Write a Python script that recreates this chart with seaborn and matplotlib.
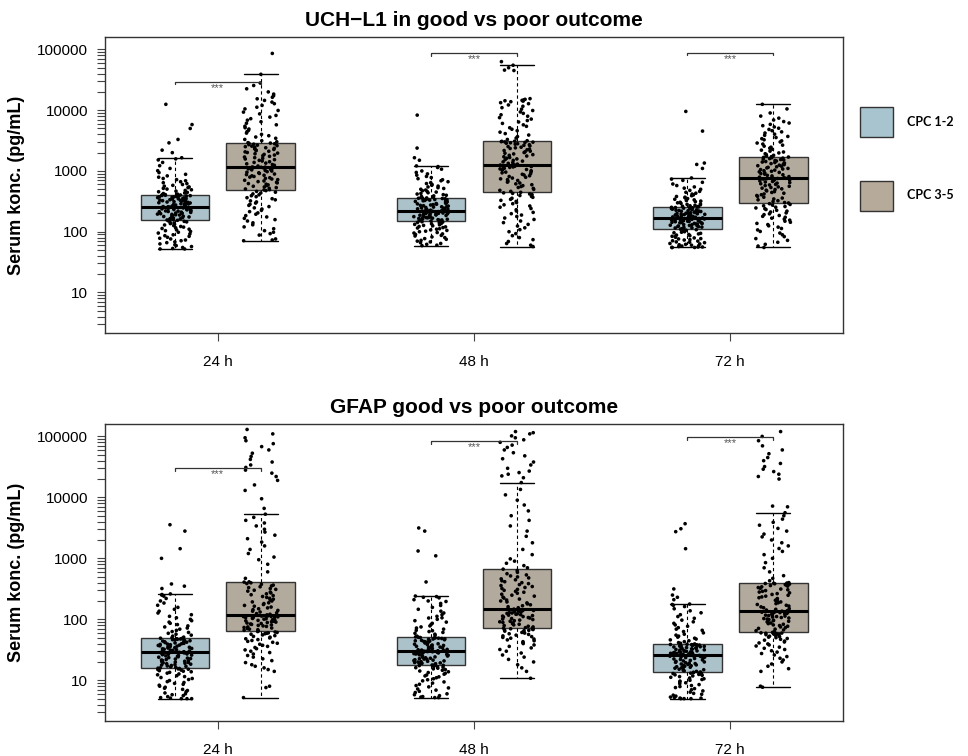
import numpy as np
import pandas as pd
import seaborn as sns
import matplotlib.pyplot as plt
from matplotlib.patches import Patch
from matplotlib.ticker import LogLocator, FuncFormatter, NullFormatter

times = ["24 h", "48 h", "72 h"]
groups = ["CPC 1-2", "CPC 3-5"]
group_colors = ["#a7c4cf", "#b6aa9b"]

# UCH-L1, serum konc. (pg/mL)
uchl1_24_good = [52, 52, 53, 55, 57, 59, 61, 63, 66, 68, 71, 73, 76, 78, 81, 84, 86, 89, 92, 95,
                 98, 101, 104, 107, 110, 113, 116, 119, 122, 126, 129, 132, 136, 139, 142, 145, 148, 151, 154, 156,
                 158, 160, 163, 165, 168, 170, 173, 175, 178, 180, 183, 185, 188, 190, 193, 195, 198, 200, 203, 205,
                 208, 210, 213, 215, 218, 220, 223, 226, 229, 232, 235, 238, 241, 243, 246, 248, 250, 252, 254, 256,
                 259, 262, 265, 268, 272, 275, 279, 282, 286, 289, 293, 297, 300, 304, 308, 312, 316, 320, 324, 328,
                 332, 336, 340, 344, 348, 352, 356, 360, 364, 368, 372, 376, 380, 384, 388, 392, 396, 399, 402, 404,
                 408, 416, 425, 434, 444, 455, 466, 478, 490, 503, 517, 531, 546, 562, 580, 598, 618, 640, 665, 690,
                 720, 752, 790, 830, 880, 940, 1010, 1100, 1220, 1380, 1520, 1580, 1650,
                 2000, 2200, 2900, 3300, 5000, 5800, 12500]
uchl1_24_poor = [71, 73, 76, 88, 93, 98, 104, 112, 120, 130, 140, 150, 158, 166, 175, 184, 194, 204, 214, 225,
                 236, 247, 259, 271, 283, 296, 309, 322, 335, 349, 363, 377, 391, 405, 419, 433, 447, 461, 474, 487,
                 492, 505, 518, 532, 546, 560, 575, 590, 605, 620, 636, 652, 668, 685, 702, 719, 737, 755, 773, 792,
                 811, 830, 850, 870, 890, 911, 932, 953, 975, 997, 1019, 1041, 1063, 1084, 1104, 1122, 1137, 1149,
                 1156, 1162,
                 1172, 1205, 1240, 1275, 1310, 1346, 1382, 1419, 1457, 1495, 1534, 1574, 1614, 1655, 1697, 1740,
                 1784, 1828, 1873, 1919, 1966, 2013, 2061, 2110, 2160, 2210, 2260, 2310, 2360, 2410, 2460, 2510,
                 2560, 2610, 2660, 2710, 2760, 2805, 2845, 2875,
                 2920, 3020, 3150, 3300, 3450, 3620, 3800, 4000, 4200, 4420, 4650, 4900, 5150, 5450, 5750, 6100,
                 6450, 6850, 7250, 7700, 8200, 8700, 9300, 9900, 10500, 11200, 12000, 12800, 13600, 14500, 15400,
                 16300, 17300, 18400, 20000, 22500, 25500, 28000, 39000, 86000]
uchl1_48_good = [59, 60, 62, 64, 66, 68, 70, 72, 75, 77, 80, 82, 85, 87, 90, 92, 95, 97, 100, 102,
                 105, 107, 110, 112, 115, 117, 120, 122, 125, 127, 130, 132, 135, 137, 140, 142, 144, 146, 148, 150,
                 152, 154, 156, 158, 160, 162, 163, 165, 167, 169, 171, 173, 175, 177, 179, 181, 183, 185, 187, 189,
                 191, 193, 195, 197, 199, 201, 203, 205, 207, 209, 211, 212, 213, 214, 215, 216, 217, 218, 219, 220,
                 223, 226, 229, 232, 235, 238, 241, 244, 247, 250, 254, 257, 261, 264, 268, 271, 275, 279, 283, 287,
                 291, 295, 299, 303, 307, 311, 315, 319, 323, 327, 331, 335, 339, 343, 346, 349, 352, 355, 358, 360,
                 364, 372, 380, 389, 398, 407, 417, 427, 438, 449, 461, 473, 486, 500, 515, 530, 546, 563, 581, 600,
                 620, 642, 665, 690, 717, 746, 778, 813, 852, 895, 945, 1000, 1070, 1140, 1180, 1210,
                 1500, 1650, 2380, 8300]
uchl1_48_poor = [57, 60, 64, 69, 74, 80, 86, 93, 100, 108, 116, 124, 132, 141, 150, 159, 168, 178, 188, 198,
                 208, 219, 230, 241, 253, 265, 277, 289, 302, 315, 328, 341, 355, 368, 381, 394, 407, 418, 428, 436,
                 445, 462, 480, 498, 516, 535, 554, 573, 593, 613, 633, 654, 675, 697, 719, 741, 764, 787, 810, 834,
                 858, 882, 907, 932, 957, 982, 1007, 1032, 1057, 1081, 1104, 1126, 1146, 1164, 1180, 1194, 1206,
                 1220, 1232, 1245,
                 1258, 1295, 1333, 1372, 1412, 1452, 1493, 1535, 1578, 1622, 1667, 1713, 1760, 1808, 1857, 1907,
                 1958, 2010, 2063, 2117, 2172, 2228, 2285, 2343, 2402, 2462, 2522, 2582, 2642, 2700, 2756, 2810,
                 2860, 2905, 2945, 2980, 3010, 3040, 3068, 3095,
                 3150, 3300, 3480, 3680, 3900, 4120, 4350, 4600, 4860, 5140, 5430, 5740, 6060, 6400, 6760, 7140,
                 7540, 7960, 8400, 8870, 9360, 9880, 10400, 11000, 11600, 12200, 12800, 13300, 13800, 14100,
                 14300, 14500, 14800, 15100, 15500, 45000, 45700, 50000, 55000, 63000]
uchl1_72_good = [55, 55, 55, 56, 56, 57, 58, 59, 60, 61, 62, 63, 64, 66, 67, 68, 70, 71, 73, 74,
                 76, 77, 79, 81, 83, 84, 86, 88, 90, 92, 94, 96, 98, 100, 102, 104, 106, 108, 110, 112,
                 113, 115, 116, 118, 119, 121, 122, 124, 125, 127, 128, 130, 131, 133, 134, 136, 137, 139, 140, 142,
                 143, 145, 146, 148, 149, 151, 152, 154, 155, 157, 158, 160, 161, 162, 163, 164, 165, 166, 168, 169,
                 171, 173, 175, 177, 179, 181, 183, 185, 187, 189, 191, 193, 195, 197, 199, 201, 203, 205, 207, 209,
                 211, 213, 215, 217, 219, 221, 223, 226, 229, 232, 235, 238, 241, 244, 246, 248, 250, 252, 254, 256,
                 259, 263, 267, 272, 277, 282, 287, 293, 299, 305, 312, 319, 326, 334, 342, 351, 360, 370, 380, 391,
                 403, 416, 430, 445, 461, 479, 499, 521, 546, 575, 610, 650, 700, 735, 767,
                 1100, 1280, 1350, 4530, 9550]
uchl1_72_poor = [55, 58, 62, 67, 72, 77, 83, 89, 95, 101, 107, 113, 119, 125, 131, 137, 143, 149, 155, 161,
                 167, 173, 179, 185, 191, 197, 204, 211, 218, 225, 232, 239, 246, 253, 260, 267, 274, 281, 289, 297,
                 302, 313, 324, 335, 346, 358, 370, 382, 394, 406, 418, 430, 443, 456, 469, 482, 495, 508, 521, 534,
                 547, 560, 574, 588, 602, 616, 630, 644, 658, 672, 686, 700, 713, 725, 736, 745, 752, 758, 762, 765,
                 772, 790, 808, 827, 846, 865, 885, 905, 925, 946, 967, 988, 1010, 1032, 1054, 1077, 1100, 1123,
                 1147, 1171, 1195, 1220, 1245, 1270, 1296, 1322, 1348, 1375, 1402, 1430, 1458, 1486, 1514, 1542,
                 1570, 1598, 1625, 1650, 1673, 1695,
                 1720, 1760, 1810, 1860, 1920, 1980, 2050, 2120, 2200, 2280, 2370, 2460, 2560, 2660, 2770, 2880,
                 3000, 3130, 3260, 3400, 3550, 3700, 3860, 4030, 4210, 4400, 4600, 4820, 5050, 5300, 5560, 5850,
                 6150, 6500, 6900, 7400, 8000, 9000, 10500, 12500]

# GFAP, serum konc. (pg/mL)
gfap_24_good = [5.0, 5.0, 5.0, 5.1, 5.2, 5.4, 5.6, 5.8, 6.0, 6.2, 6.5, 6.8, 7.1, 7.4, 7.7, 8.0, 8.3, 8.6, 8.9,
                9.2, 9.5, 9.9, 10.3, 10.7, 11.1, 11.5, 11.9, 12.3, 12.7, 13.1, 13.5, 13.8, 14.1, 14.4, 14.7, 15.0,
                15.2, 15.4, 15.6, 15.8,
                16.0, 16.3, 16.6, 16.9, 17.2, 17.5, 17.8, 18.1, 18.4, 18.7, 19.0, 19.3, 19.6, 19.9, 20.2, 20.5,
                20.8, 21.1, 21.5, 21.9, 22.3, 22.7, 23.1, 23.5, 23.9, 24.3, 24.7, 25.1, 25.5, 25.9, 26.3, 26.7,
                27.0, 27.3, 27.6, 27.9, 28.1, 28.3, 28.6, 28.8,
                29.0, 29.4, 29.8, 30.2, 30.6, 31.0, 31.4, 31.8, 32.3, 32.8, 33.3, 33.8, 34.3, 34.8, 35.3, 35.8,
                36.3, 36.8, 37.3, 37.8, 38.3, 38.8, 39.3, 39.8, 40.4, 41.0, 41.6, 42.2, 42.8, 43.4, 44.0, 44.6,
                45.2, 45.8, 46.4, 47.0, 47.5, 48.0, 48.5, 49.0,
                50, 51, 53, 55, 57, 59, 61, 63, 66, 69, 72, 75, 78, 82, 86, 90, 95, 100, 106, 112,
                119, 127, 136, 146, 157, 170, 185, 200, 220, 240, 250, 255, 261, 320, 350, 380,
                1000, 1440, 2800, 3560]
gfap_24_poor = [5.2, 7.6, 8.0, 14, 15, 16, 17, 18, 19.5, 21, 22.5, 24, 25.5, 27, 28.5, 30, 31.5, 33, 34.5,
                36, 37.5, 39, 40.5, 42, 43.5, 45, 46.5, 48, 49.5, 51, 52.5, 54, 55.5, 57, 58, 59, 60, 61, 62, 63,
                64.5, 66, 67.5, 69, 70.5, 72, 73.5, 75, 76.5, 78, 79.5, 81, 82.5, 84, 85.5, 87, 88.5, 90, 91.5, 93,
                94.5, 96, 97.5, 99, 100.5, 102, 103.5, 105, 106.5, 108, 109, 110, 111, 112, 113, 113.5, 114, 114.5,
                115, 116,
                118, 121, 124, 128, 132, 136, 140, 144, 149, 154, 159, 164, 169, 175, 181, 187, 193, 200, 207, 214,
                221, 229, 237, 245, 253, 262, 271, 280, 290, 300, 310, 320, 331, 342, 353, 364, 375, 386, 397, 408,
                412, 470, 600, 800, 950, 1050, 1200, 1400, 1600, 1850, 2100, 2400, 2700, 3000, 3400, 3800, 4200,
                4700, 5300, 6600, 9500, 13000, 16000, 19000, 22000, 25000, 28000, 31000, 34000, 38000, 42000,
                47000, 53000, 60000, 68000, 76000, 85000, 95000, 110000, 130000]
gfap_48_good = [5.2, 5.2, 5.3, 5.4, 5.6, 5.8, 6.0, 6.3, 6.6, 6.9, 7.2, 7.5, 7.8, 8.2, 8.6, 9.0, 9.4, 9.8,
                10.2, 10.6, 11.0, 11.4, 11.8, 12.2, 12.6, 13.0, 13.4, 13.8, 14.2, 14.6, 15.0, 15.4, 15.8, 16.1,
                16.4, 16.7, 17.0, 17.2, 17.4, 17.6,
                17.8, 18.1, 18.4, 18.7, 19.0, 19.3, 19.6, 19.9, 20.2, 20.5, 20.8, 21.1, 21.4, 21.7, 22.0, 22.3,
                22.6, 23.0, 23.4, 23.8, 24.2, 24.6, 25.0, 25.4, 25.8, 26.2, 26.6, 27.0, 27.4, 27.8, 28.1, 28.4,
                28.7, 29.0, 29.2, 29.4, 29.6, 29.7, 29.8, 29.9,
                30.1, 30.5, 30.9, 31.3, 31.7, 32.1, 32.6, 33.1, 33.6, 34.1, 34.6, 35.1, 35.6, 36.1, 36.7, 37.3,
                37.9, 38.5, 39.1, 39.7, 40.3, 40.9, 41.5, 42.1, 42.7, 43.3, 43.9, 44.5, 45.1, 45.7, 46.3, 46.9,
                47.5, 48.0, 48.5, 49.0, 49.5, 49.9, 50.3, 50.7,
                51.5, 53, 55, 57, 59, 61, 63, 65, 66, 69, 72, 75, 78, 82, 86, 90, 95, 100, 105, 106,
                112, 119, 127, 136, 146, 157, 169, 182, 196, 200, 210, 225, 230, 236, 241,
                410, 1100, 1320, 2800, 3150]
gfap_48_poor = [10.8, 14, 16, 18, 20, 22, 24, 26, 28, 30, 32, 34, 36, 38, 40, 41.5, 43, 44.5, 46, 47.5,
                49, 50.5, 52, 53.5, 55, 56.5, 58, 59.5, 61, 62.5, 64, 65, 66, 67, 68, 69, 70, 70.5, 71, 71.5,
                73, 75, 77, 79, 81, 83, 85, 87, 89, 91, 93, 95, 97, 99, 101, 103, 105, 107, 109, 111,
                113, 115, 117, 119, 121, 123, 125, 127, 129, 131, 133, 135, 137, 139, 140, 141, 143, 144, 145, 147,
                150, 155, 161, 167, 173, 179, 186, 193, 200, 207, 215, 223, 231, 240, 249, 258, 268, 278, 288, 299,
                310, 321, 333, 345, 358, 371, 385, 399, 414, 429, 445, 461, 478, 496, 515, 535, 560, 590, 630, 665,
                700, 760, 830, 900, 980, 1150, 1400, 1800, 2300, 2800, 3400, 4200, 5000, 6000, 7500, 9000, 11000,
                13500, 17500, 21000, 22500, 24000, 25500, 27000, 30000, 34000, 38000, 43000, 48000, 54000, 60000,
                66000, 72000, 80000, 88000, 95000, 102000, 110000, 115000, 120000]
gfap_72_good = [5.0, 5.0, 5.0, 5.1, 5.1, 5.2, 5.3, 5.5, 5.7, 5.9, 6.1, 6.4, 6.7, 7.0, 7.3, 7.6, 7.9, 8.2,
                8.5, 8.8, 9.1, 9.4, 9.7, 10.0, 10.3, 10.6, 10.9, 11.2, 11.5, 11.8, 12.1, 12.3, 12.5, 12.7, 12.9,
                13.0, 13.1, 13.2, 13.4, 13.5,
                13.7, 14.0, 14.3, 14.6, 14.9, 15.2, 15.5, 15.8, 16.1, 16.4, 16.7, 17.0, 17.3, 17.6, 17.9, 18.2,
                18.5, 18.8, 19.1, 19.4, 19.7, 20.0, 20.4, 20.8, 21.2, 21.6, 22.0, 22.4, 22.8, 23.2, 23.6, 24.0,
                24.3, 24.6, 24.9, 25.1, 25.3, 25.5, 25.6, 25.7,
                25.9, 26.2, 26.5, 26.8, 27.1, 27.4, 27.7, 28.0, 28.3, 28.6, 28.9, 29.2, 29.5, 29.8, 30.1, 30.4,
                30.8, 31.2, 31.6, 32.0, 32.4, 32.8, 33.2, 33.6, 34.0, 34.4, 34.8, 35.2, 35.6, 36.0, 36.4, 36.8,
                37.2, 37.5, 37.8, 38.1, 38.3, 38.5, 38.7, 38.9,
                39.5, 40.5, 41.5, 43, 44.5, 46, 47.5, 49, 51, 53, 55, 57, 60, 63, 66, 69, 73, 77, 81, 86,
                91, 97, 104, 111, 119, 128, 138, 149, 162, 170, 175, 178, 210, 230, 250, 315,
                1440, 2740, 3060, 3700]
gfap_72_poor = [7.7, 8.0, 14, 15.5, 17, 18.5, 20, 21.5, 23, 24.5, 26, 27.5, 29, 30.5, 32, 33.5, 35, 36.5,
                38, 39.5, 41, 42.5, 44, 45.5, 47, 48.5, 50, 51, 52, 53, 54, 55, 56, 57, 58, 58.5, 59, 59.5, 60, 61,
                63, 65, 67, 69, 71, 73, 75, 77, 79, 81, 83, 85, 87, 89, 91, 93, 95, 97, 99, 101,
                103, 105, 107, 109, 111, 113, 115, 117, 119, 121, 123, 125, 127, 129, 130, 131, 132, 133, 134, 136,
                138, 142, 146, 150, 155, 160, 165, 170, 175, 181, 187, 193, 199, 205, 212, 219, 226, 233, 240, 248,
                256, 264, 272, 280, 288, 296, 305, 314, 323, 332, 341, 350, 358, 365, 372, 378, 383, 387, 390, 393,
                400, 430, 470, 520, 600, 700, 850, 1000, 1150, 1300, 1450, 1600, 1800, 2000, 2250, 2500, 2800,
                3100, 3500, 3900, 4400, 5000, 5600, 7000, 7200, 20000, 22000, 24000, 26500, 29000, 32000, 36000,
                40000, 45000, 52000, 60000, 70000, 85000, 100000, 120000]

# height of the "***" brackets per time point
uchl1_bracket_y = [29000, 86000, 88000]
gfap_bracket_y = [30000, 83000, 96000]

panels = [
    ("UCH\u2212L1 in good vs poor outcome",
     {("24 h", "CPC 1-2"): uchl1_24_good, ("24 h", "CPC 3-5"): uchl1_24_poor,
      ("48 h", "CPC 1-2"): uchl1_48_good, ("48 h", "CPC 3-5"): uchl1_48_poor,
      ("72 h", "CPC 1-2"): uchl1_72_good, ("72 h", "CPC 3-5"): uchl1_72_poor},
     uchl1_bracket_y),
    ("GFAP good vs poor outcome",
     {("24 h", "CPC 1-2"): gfap_24_good, ("24 h", "CPC 3-5"): gfap_24_poor,
      ("48 h", "CPC 1-2"): gfap_48_good, ("48 h", "CPC 3-5"): gfap_48_poor,
      ("72 h", "CPC 1-2"): gfap_72_good, ("72 h", "CPC 3-5"): gfap_72_poor},
     gfap_bracket_y),
]


def long_table(series):
    rows = []
    for (t, g), vals in series.items():
        rows += [(t, g, v) for v in vals]
    return pd.DataFrame(rows, columns=["time", "cpc", "konc"])


sns.set_style("ticks")
plt.rcParams["font.family"] = ["Liberation Sans", "DejaVu Sans"]
for key in ["text.color", "axes.labelcolor", "xtick.color", "ytick.color"]:
    plt.rcParams[key] = "black"
np.random.seed(7)

fig = plt.figure(figsize=(9.68, 7.56), dpi=100)
axes = [fig.add_axes([0.1085, 0.5595, 0.7624, 0.3915]),
        fig.add_axes([0.1085, 0.0463, 0.7624, 0.3929])]

half = 0.67 / 4  # offset of each box from the time tick

for ax, (title, series, brackets) in zip(axes, panels):
    df = long_table(series)
    sns.boxplot(data=df, x="time", y="konc", hue="cpc", order=times, hue_order=groups,
                palette=group_colors, log_scale=True, width=0.67, gap=0.2, whis=1.5,
                showfliers=False, linecolor="#333333", linewidth=1, legend=False, ax=ax,
                medianprops=dict(color="black", linewidth=2.2),
                whiskerprops=dict(color="black", linewidth=0.8, linestyle=(0, (3, 2.5))),
                capprops=dict(color="black", linewidth=1))
    n_before = len(ax.collections)
    sns.stripplot(data=df, x="time", y="konc", hue="cpc", order=times, hue_order=groups,
                  palette=["black", "black"], dodge=True, jitter=0.136, size=2.6,
                  linewidth=0, legend=False, ax=ax, log_scale=True, zorder=3)
    # stripplot dodges by +-0.2; pull the points onto the box centres
    for coll in ax.collections[n_before:]:
        off = np.asarray(coll.get_offsets()).copy()
        centre = np.round(off[:, 0])
        side = np.sign(off[:, 0] - centre)
        off[:, 0] = off[:, 0] - side * (0.2 - half)
        coll.set_offsets(off)

    for i, h in enumerate(brackets):
        x0, x1 = i - half, i + half
        ax.plot([x0, x0, x1, x1], [h * 0.915, h, h, h * 0.915], color="#333333", lw=0.9, zorder=4)
        ax.text(i, h * 0.97, "***", ha="center", va="top", fontsize=8, color="#555555")

    ax.set_xlim(-0.44, 2.44)
    ax.set_ylim(2.15, 160000)
    ax.yaxis.set_major_locator(LogLocator(base=10))
    ax.yaxis.set_major_formatter(FuncFormatter(lambda v, p: f"{v:.0f}"))
    ax.yaxis.set_minor_locator(LogLocator(base=10, subs=np.arange(2, 10)))
    ax.yaxis.set_minor_formatter(NullFormatter())
    ax.tick_params(axis="y", which="both", length=6, width=0.8, color="#444444",
                   labelsize=11, pad=6)
    ax.tick_params(axis="x", length=6, width=0.8, color="#444444", labelsize=11, pad=10)
    for s in ax.spines.values():
        s.set_visible(True)
        s.set_linewidth(1)
        s.set_color("#333333")
    ax.set_xlabel("")
    ax.set_ylabel("Serum konc. (pg/mL)", fontsize=13, fontweight="bold", labelpad=9)
    ax.set_title(title, fontsize=15, fontweight="bold", pad=8)

handles = [Patch(facecolor=c, edgecolor="#333333", linewidth=1) for c in group_colors]
fig.legend(handles, groups, loc="upper left", bbox_to_anchor=(860 / 968, 1 - 107 / 756),
           frameon=False, prop={"family": "Lato", "weight": "bold", "size": 9},
           handlelength=2.65, handleheight=3.3, labelspacing=3.5, handletextpad=1.1,
           borderpad=0, borderaxespad=0)

fig.savefig("out.png", dpi=100)
